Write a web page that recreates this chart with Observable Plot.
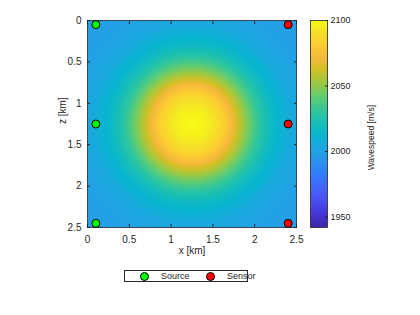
<!DOCTYPE html>
<html><head><meta charset="utf-8">
<script src="https://cdn.jsdelivr.net/npm/d3@7"></script>
<script src="https://cdn.jsdelivr.net/npm/@observablehq/plot@0.6"></script>
<style>
html,body{margin:0;padding:0;background:#fff;}
#fig{position:relative;width:420px;height:315px;overflow:hidden;font-family:"Liberation Sans",Arial,sans-serif;color:#262626;background:#fff;}
#main{position:absolute;left:0;top:0;}
#cbar{position:absolute;left:308px;top:0;}
#legend{position:absolute;left:124px;top:270px;width:122px;height:10px;border:1px solid #262626;background:#fff;font-size:9px;}
.litem{position:absolute;top:0;height:10px;}
.ldot{position:absolute;top:0.5px;width:7px;height:7px;border:1px solid #000;border-radius:50%;}
.ltxt{position:absolute;top:0;line-height:10px;white-space:nowrap;}
</style></head><body>
<div id="fig"><div id="main"></div><div id="cbar"></div><div id="legend"></div></div>
<script>
// ---- data ----
const xTicks = [0, 0.5, 1, 1.5, 2, 2.5];
const zTicks = [0, 0.5, 1, 1.5, 2, 2.5];
const cbTicks = [1950, 2000, 2050, 2100];
const cbRange = [1942, 2100];
const xDomain = [0, 2.5];
const zDomain = [0, 2.5];
const anomalyCenterX = 1.25;
const anomalyCenterZ = 1.25;
// radial wavespeed profile (distance from anomaly centre, km -> m/s)
const profileRadius = [0, 0.2, 0.3, 0.4, 0.5, 0.6, 0.7, 0.8, 0.9, 1.0, 1.2, 1.4, 1.6, 1.8];
const profileSpeed  = [2100, 2096, 2090, 2081, 2069, 2055, 2042, 2030, 2021, 2014, 2005, 2001, 1999, 1998];
const sourceX = [0.1, 0.1, 0.1];
const sourceZ = [0.05, 1.25, 2.45];
const sensorX = [2.4, 2.4, 2.4];
const sensorZ = [0.05, 1.25, 2.45];
const legendLabels = ["Source", "Sensor"];
const xLabel = "x [km]";
const zLabel = "z [km]";
const cbLabel = "Wavespeed [m/s]";

// ---- styles: MATLAB parula colormap (subsampled) ----
const parulaIdx = [0, 4, 8, 12, 16, 20, 24, 28, 32, 36, 40, 44, 48, 52, 56, 60, 63];
const parulaColors = [
  "rgb(62,38,168)", "rgb(69,55,213)", "rgb(72,77,240)", "rgb(69,99,253)",
  "rgb(50,124,252)", "rgb(43,145,239)", "rgb(32,165,227)", "rgb(8,181,208)",
  "rgb(25,191,182)", "rgb(55,200,151)", "rgb(100,205,111)", "rgb(157,201,67)",
  "rgb(209,191,39)", "rgb(248,186,61)", "rgb(252,207,48)", "rgb(245,227,39)",
  "rgb(249,251,21)"
];
const legendColors = ["#00ff00", "#ff0000"];
const ink = "#262626";
const font = "'Liberation Sans', Arial, sans-serif";

const parulaScale = d3.scaleLinear()
  .domain(parulaIdx.map(i => i / 63))
  .range(parulaColors)
  .interpolate(d3.interpolateRgb)
  .clamp(true);
const colorScale = {type: "linear", domain: cbRange, interpolate: t => parulaScale(t)};

const speedAt = d3.scaleLinear().domain(profileRadius).range(profileSpeed).clamp(true);

const sources = sourceX.map((x, i) => ({x, z: sourceZ[i]}));
const sensors = sensorX.map((x, i) => ({x, z: sensorZ[i]}));

const main = Plot.plot({
  width: 308, height: 260,
  marginLeft: 87, marginRight: 12, marginTop: 20, marginBottom: 33,
  style: {fontFamily: font, fontSize: "10px", color: ink, background: "transparent"},
  x: {domain: xDomain},
  y: {domain: zDomain, reverse: true},
  color: colorScale,
  marks: [
    Plot.raster({fill: (x, y) => speedAt(Math.hypot(x - anomalyCenterX, y - anomalyCenterZ)),
      x1: xDomain[0], x2: xDomain[1], y1: zDomain[0], y2: zDomain[1], pixelSize: 1}),
    Plot.frame({stroke: ink, strokeWidth: 0.8}),
    Plot.axisX({anchor: "bottom", ticks: xTicks, tickSize: -3, tickPadding: 11, tickFormat: d => String(d), label: null, stroke: ink}),
    Plot.axisX({anchor: "top", ticks: xTicks, tickSize: -3, tickFormat: () => "", label: null, stroke: ink}),
    Plot.axisY({anchor: "left", ticks: zTicks, tickSize: -3, tickPadding: 9, tickFormat: d => String(d), label: null, stroke: ink}),
    Plot.axisY({anchor: "right", ticks: zTicks, tickSize: -3, tickFormat: () => "", label: null, stroke: ink}),
    Plot.dot(sources, {x: "x", y: "z", r: 4, fill: legendColors[0], stroke: "#000", strokeWidth: 1}),
    Plot.dot(sensors, {x: "x", y: "z", r: 4, fill: legendColors[1], stroke: "#000", strokeWidth: 1}),
    Plot.text([xLabel], {text: d => d, frameAnchor: "bottom", dy: 26, fill: ink}),
    Plot.text([zLabel], {text: d => d, frameAnchor: "left", rotate: -90, dx: -25, fill: ink})
  ]
});
document.getElementById("main").appendChild(main);

const cbar = Plot.plot({
  width: 112, height: 260,
  marginLeft: 2, marginRight: 93, marginTop: 20, marginBottom: 33,
  style: {fontFamily: font, fontSize: "9px", color: ink, background: "transparent"},
  x: {domain: [0, 1], axis: null},
  y: {domain: cbRange},
  color: colorScale,
  marks: [
    Plot.raster({fill: (x, y) => y, x1: 0, x2: 1, y1: cbRange[0], y2: cbRange[1], pixelSize: 1}),
    Plot.frame({stroke: ink, strokeWidth: 0.8}),
    Plot.axisY({anchor: "right", ticks: cbTicks, tickSize: -3, tickPadding: 6, tickFormat: d => String(d), label: null, stroke: ink}),
    Plot.text([cbLabel], {text: d => d, frameAnchor: "right", rotate: -90, dx: 44, dy: -19, fontSize: 8.5, fill: ink})
  ]
});
document.getElementById("cbar").appendChild(cbar);

const legend = document.getElementById("legend");
legendLabels.forEach((lab, i) => {
  const item = document.createElement("div");
  item.className = "litem";
  item.style.left = (15 + i * 66) + "px";
  const dot = document.createElement("span");
  dot.className = "ldot";
  dot.style.left = "0px";
  dot.style.background = legendColors[i];
  const txt = document.createElement("span");
  txt.className = "ltxt";
  txt.style.left = "21px";
  txt.textContent = lab;
  item.appendChild(dot);
  item.appendChild(txt);
  legend.appendChild(item);
});
</script>
</body></html>
